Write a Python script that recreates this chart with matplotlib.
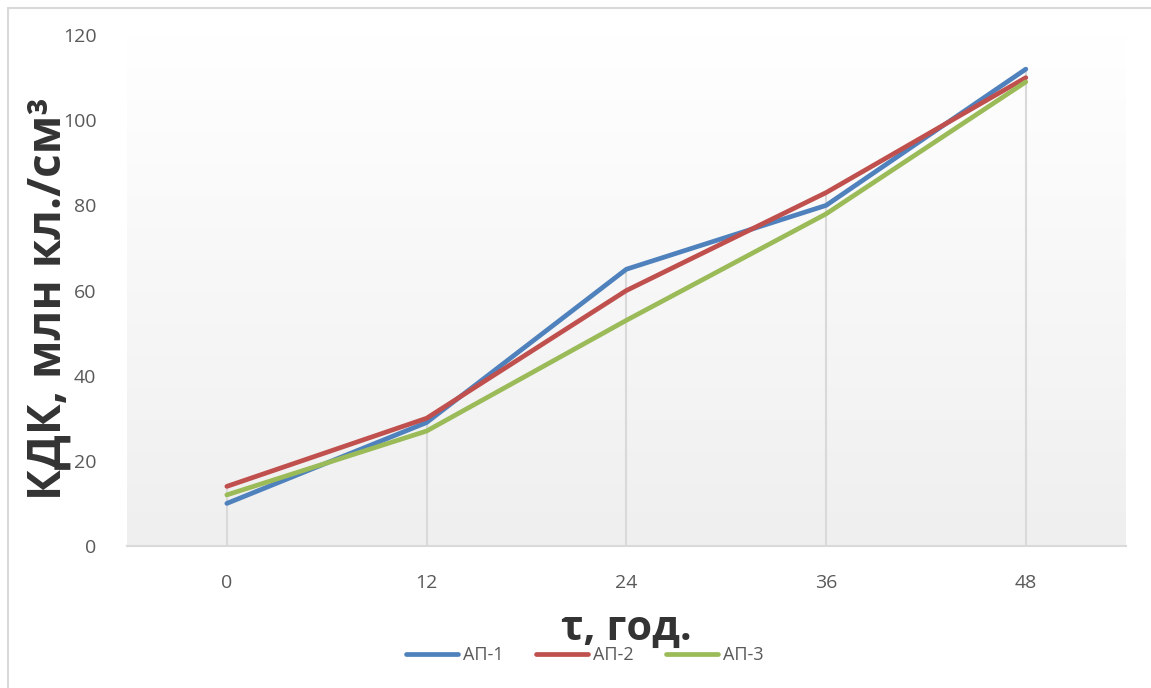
import matplotlib.pyplot as plt
import matplotlib.patches as mpatches
import numpy as np

plt.rcParams['font.family'] = ['Open Sans', 'DejaVu Sans']

hours = ["0", "12", "24", "36", "48"]
ap1 = [10, 29, 65, 80, 112]
ap2 = [14, 30, 60, 83, 110]
ap3 = [12, 27, 53, 78, 109]
series_names = ["АП-1", "АП-2", "АП-3"]
colors = ["#4F81BD", "#C0504D", "#9BBB59"]

fig = plt.figure(figsize=(11.51, 6.88), dpi=100)
ax = fig.add_axes([0.1103, 0.2064, 0.8677, 0.7426])

# chart area border
fig.patches.append(mpatches.Rectangle((8 / 1151, -0.1), 1.2, 1 - 8 / 688 + 0.1,
                                      transform=fig.transFigure, fill=False,
                                      edgecolor="#d9d9d9", lw=1.5))

# plot area gradient (white at top -> light gray at bottom)
grad = np.linspace(1.0, 0.0, 256).reshape(-1, 1)
ax.imshow(grad, cmap=plt.matplotlib.colors.LinearSegmentedColormap.from_list(
    "bg", ["#efefef", "#ffffff"]), aspect="auto", extent=(0, 1, 0, 1),
    transform=ax.transAxes, zorder=0, vmin=0, vmax=1)

x = np.arange(len(hours))
tops = np.max([ap1, ap2, ap3], axis=0)
ax.vlines(x, 0, tops, color="#d9d9d9", lw=1.5, zorder=1)

for vals, name, c in zip([ap1, ap2, ap3], series_names, colors):
    ax.plot(x, vals, color=c, lw=3.4, label=name, solid_capstyle="round",
            solid_joinstyle="round", zorder=3)

ax.set_xlim(-0.5, 4.5)
ax.set_ylim(0, 120)
ax.set_yticks(np.arange(0, 121, 20))
ax.set_xticks(x)
ax.set_xticklabels(hours)
for s in ["top", "right", "left"]:
    ax.spines[s].set_visible(False)
ax.spines["bottom"].set_color("#d9d9d9")
ax.spines["bottom"].set_linewidth(1.5)
ax.tick_params(axis="both", length=0, labelsize=14, labelcolor="#595959")
ax.tick_params(axis="y", pad=22)
ax.tick_params(axis="x", pad=20)

fig.text(0.042, 0.566, "КДК, млн кл./см³", rotation=90, ha="center", va="center",
         fontsize=33, fontweight="bold", color="#333333")
fig.text(0.544, 0.085, "τ, год.", ha="center", va="center",
         fontsize=30, fontweight="bold", color="#333333")

fig.legend(loc="center", bbox_to_anchor=(0.508, 0.048), ncol=3, frameon=False,
           fontsize=13, labelcolor="#595959", handlelength=2.9, handletextpad=0.3,
           columnspacing=1.75)

fig.savefig("out.png", dpi=100)
